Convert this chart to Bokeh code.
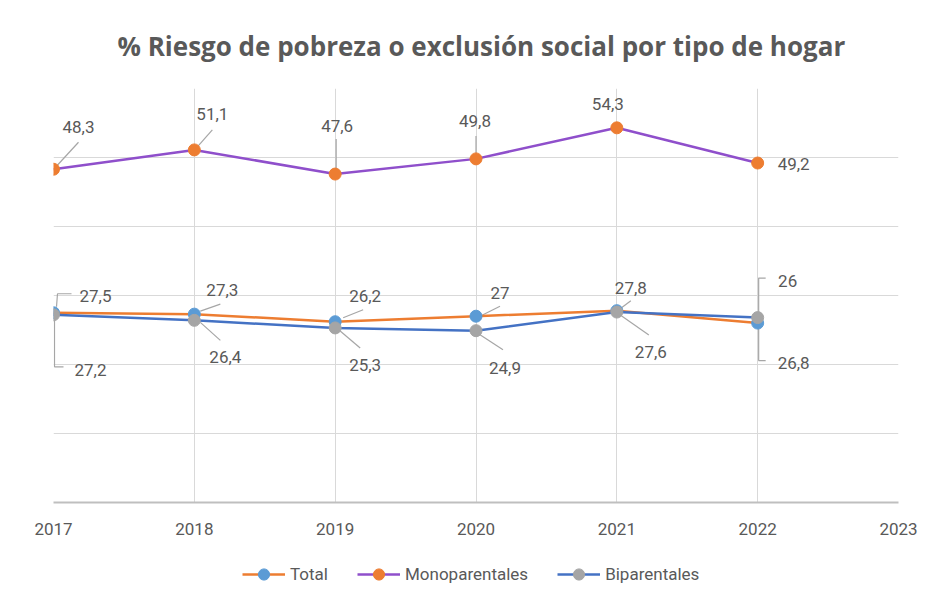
from bokeh.plotting import figure
from bokeh.layouts import column
from bokeh.models import (ColumnDataSource, Legend, LegendItem, FixedTicker,
                          SingleIntervalTicker, Range1d)
from bokeh.core.properties import value
from bokeh.embed import file_html
from bokeh.resources import INLINE

# ---------------- data ----------------
YEARS = [2017, 2018, 2019, 2020, 2021, 2022]
AXIS_YEARS = [2017, 2018, 2019, 2020, 2021, 2022, 2023]
TOTAL = [27.5, 27.3, 26.2, 27.0, 27.8, 26.0]
MONOPARENTALES = [48.3, 51.1, 47.6, 49.8, 54.3, 49.2]
BIPARENTALES = [27.2, 26.4, 25.3, 24.9, 27.6, 26.8]
TITLE = "% Riesgo de pobreza o exclusión social por tipo de hogar"
NAMES = ["Total", "Monoparentales", "Biparentales"]

# ---------------- styling ----------------
FW, FH = 845, 414
X0, X1, Y0, Y1 = 2017, 2023, 0, 60
PX_X = FW / (X1 - X0)
PX_Y = FH / (Y1 - Y0)
TXT = "#595959"
FONT = "Roboto"

STYLE = {
    "Total": dict(line="#ED7D31", marker="#5B9BD5"),
    "Monoparentales": dict(line="#8F4FCB", marker="#ED7D31"),
    "Biparentales": dict(line="#4472C4", marker="#A5A5A5"),
}
# label offsets in screen px (x right, y down) relative to each point
LABEL_OFF = {
    "Total": [(42, -17), (28, -24), (30, -26), (24, -23), (14, -23), (30, -42)],
    "Monoparentales": [(25, -42), (18, -36), (2, -48), (-1, -38), (-9, -24), (36, 1)],
    "Biparentales": [(37, 55), (31, 37), (30, 37), (29, 37), (34, 40), (36, 45)],
}
LEADERS = {
    "Total": [[(3, -6), (4, -19), (18, -19)], [(6, -3), (26, -10)], [(8, -4), (28, -12)],
              [(6, -1), (24, -10)], [(2, -1), (14, -10)], [(1, -5), (1, -45), (8, -45)]],
    "Monoparentales": [[(2, -2), (25, -27)], [(3, -3), (18, -20)], [(1, -5), (1, -35)],
                       [(0, -5), (0, -23)], None, None],
    "Biparentales": [[(1, 5), (1, 52), (10, 52)], [(6, 2), (26, 20)], [(5, 3), (25, 20)],
                     [(4, 4), (27, 19)], [(2, 2), (32, 23)], [(1, 7), (1, 43), (8, 43)]],
}

p = figure(frame_width=FW, frame_height=FH, x_range=Range1d(X0, X1), y_range=Range1d(Y0, Y1),
           output_backend="svg", toolbar_location=None, title=TITLE,
           min_border_left=53, min_border_right=25, min_border_top=86, min_border_bottom=45)
p.title.align = "left"
p.title.offset = 64
p.title.standoff = 50
p.title.text_font = "Open Sans"
p.title.text_font_size = "26px"
p.title.text_font_style = "bold"
p.title.text_color = TXT

p.outline_line_color = None
p.yaxis.visible = False
p.xaxis.ticker = FixedTicker(ticks=AXIS_YEARS)
p.xgrid.ticker = FixedTicker(ticks=AXIS_YEARS)
p.ygrid.ticker = SingleIntervalTicker(interval=10)
p.grid.grid_line_color = "#d9d9d9"
p.grid.grid_line_width = 1
p.xaxis.axis_line_color = "#bfbfbf"
p.xaxis.axis_line_width = 2
p.xaxis.major_tick_line_color = None
p.xaxis.minor_tick_line_color = None
p.xaxis.major_tick_out = 0
p.xaxis.minor_tick_out = 0
p.xaxis.major_label_standoff = 20
p.xaxis.major_label_text_font = FONT
p.xaxis.major_label_text_font_size = "17px"
p.xaxis.major_label_text_color = TXT

series = {"Total": TOTAL, "Monoparentales": MONOPARENTALES, "Biparentales": BIPARENTALES}

# leader lines
lxs, lys = [], []
for name, vals in series.items():
    for yr, v, ld in zip(YEARS, vals, LEADERS[name]):
        if ld is None:
            continue
        lxs.append([yr + dx / PX_X for dx, dy in ld])
        lys.append([v - dy / PX_Y for dx, dy in ld])
p.multi_line(lxs, lys, line_color="#a6a6a6", line_width=1.2)

for name in NAMES:
    vals = series[name]
    st = STYLE[name]
    src = ColumnDataSource(dict(x=YEARS, y=vals))
    p.line("x", "y", source=src, line_color=st["line"], line_width=2.5)
    p.scatter("x", "y", source=src, size=12, fill_color=st["marker"], line_color=st["marker"])

for name in NAMES:
    vals = series[name]
    lsrc = ColumnDataSource(dict(
        x=YEARS, y=vals,
        t=[f"{v:g}".replace(".", ",") for v in vals],
        dx=[o[0] for o in LABEL_OFF[name]],
        dy=[o[1] for o in LABEL_OFF[name]],
    ))
    p.text("x", "y", text="t", x_offset="dx", y_offset="dy", source=lsrc,
           text_align="center", text_baseline="middle", text_font=value(FONT),
           text_font_size="17px", text_color=TXT)

# ---------------- legend strip (separate figure below) ----------------
# the legend figure's ranges are (0, 1); the series' own data lies far outside
# them, so only the legend samples of these renderers are visible.
leg = figure(frame_width=923, frame_height=50, x_range=Range1d(0, 1), y_range=Range1d(0, 1),
             output_backend="svg", toolbar_location=None, min_border=0)
leg.axis.visible = False
leg.grid.visible = False
leg.outline_line_color = None
items = []
for name in NAMES:
    st = STYLE[name]
    lsrc2 = ColumnDataSource(dict(x=YEARS, y=series[name]))
    lr = leg.line("x", "y", source=lsrc2, line_color=st["line"], line_width=2.5)
    sr = leg.scatter("x", "y", source=lsrc2, size=12, fill_color=st["marker"], line_color=st["marker"])
    items.append(LegendItem(label=name, renderers=[lr, sr]))
legend = Legend(items=items, orientation="horizontal", location=(242, 9),
                glyph_width=43, glyph_height=28, label_standoff=5, spacing=29,
                padding=0, margin=0, border_line_color=None, background_fill_alpha=0,
                label_text_font=FONT, label_text_font_size="17px", label_text_color=TXT)
leg.add_layout(legend)

layout = column(p, leg, spacing=0)
open("out.html", "w").write(file_html(layout, INLINE))
